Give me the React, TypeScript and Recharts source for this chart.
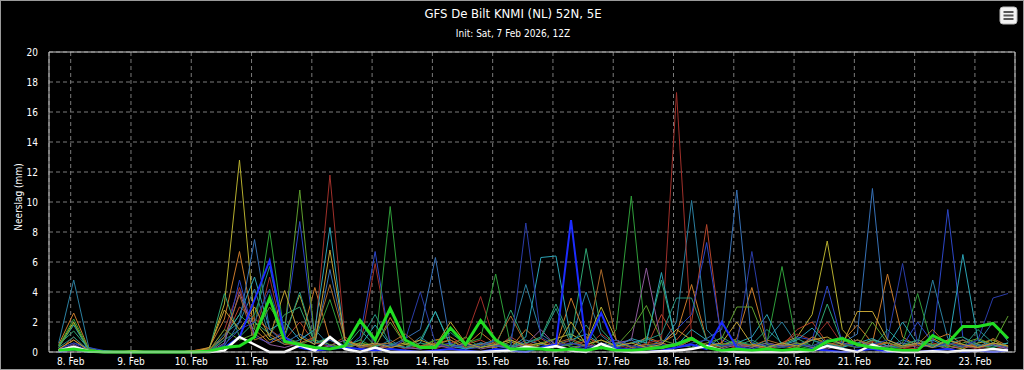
import React from 'react';
import { LineChart, Line, XAxis, YAxis, CartesianGrid } from 'recharts';

// Forecast steps: 6-hourly, from Sat 7 Feb 2026 18Z to 23 Feb 12Z (64 steps)
const dayLabels = ['8. Feb', '9. Feb', '10. Feb', '11. Feb', '12. Feb', '13. Feb', '14. Feb', '15. Feb',
  '16. Feb', '17. Feb', '18. Feb', '19. Feb', '20. Feb', '21. Feb', '22. Feb', '23. Feb'];
const dayTickSteps = [0.8, 4.8, 8.8, 12.8, 16.8, 20.8, 24.8, 28.8, 32.8, 36.8, 40.8, 44.8, 48.8, 52.8, 56.8, 60.8];
const yTicks = [0, 2, 4, 6, 8, 10, 12, 14, 16, 18, 20];

const m01 = [0.6, 4.8, 0.3, 0, 0, 0, 0, 0, 0, 0, 0.1, 1.2, 2.0, 4.2, 1.0, 0.5, 0.8, 1.5, 0.4, 0.2, 0.6, 0.3, 0.8, 0.2, 1.0, 0.3, 0.5, 0.2, 0.6, 0.4, 0.9, 4.5, 1.2, 0.5, 0.8, 4.0, 1.1, 0.3, 0.6, 0.9, 0.5, 2.0, 10.1, 1.5, 0.4, 0.6, 0.3, 0.8, 2.0, 0.5, 0.3, 0.7, 1.0, 0.4, 0.6, 0.3, 0.8, 0.5, 4.8, 0.9, 0.4, 0.6, 2.0, 0.7];
const m02 = [0.4, 2.0, 0.1, 0, 0, 0.1, 0, 0, 0, 0, 0.2, 3.2, 12.8, 2.0, 0.8, 1.2, 3.8, 0.6, 0.9, 0.3, 0.5, 0.2, 0.4, 0.6, 0.3, 0.5, 0.8, 0.2, 0.4, 0.3, 0.7, 0.2, 0.5, 0.9, 1.2, 0.6, 3.0, 0.8, 0.3, 0.5, 0.2, 0.6, 0.9, 0.3, 0.5, 0.7, 0.4, 0.2, 0.6, 1.0, 2.5, 7.4, 1.5, 0.4, 0.8, 0.6, 0.3, 0.5, 0.9, 0.4, 0.2, 0.6, 0.8, 0.3];
const m03 = [0.5, 2.6, 0.2, 0, 0, 0, 0, 0, 0, 0.1, 0.3, 2.2, 6.7, 1.5, 0.6, 1.0, 0.5, 4.3, 0.8, 0.4, 0.6, 0.3, 2.3, 0.5, 0.3, 0.8, 1.0, 0.4, 1.3, 0.5, 0.3, 1.5, 0.6, 0.4, 3.6, 1.0, 0.5, 0.8, 0.3, 1.0, 0.6, 1.2, 4.5, 0.8, 0.3, 0.9, 4.3, 0.6, 0.4, 0.2, 1.0, 0.5, 0.7, 1.8, 0.6, 5.2, 1.0, 0.4, 0.8, 1.2, 0.5, 0.3, 0.9, 0.4];
const m04 = [0.2, 0.8, 0.1, 0, 0, 0, 0, 0, 0, 0, 0.1, 1.5, 4.3, 1.0, 5.0, 0.6, 0.4, 1.0, 11.8, 0.8, 0.3, 5.9, 0.5, 0.2, 0.4, 0.2, 0.6, 0.9, 3.7, 0.5, 0.3, 0.6, 0.2, 0.4, 0.8, 0.3, 1.2, 0.5, 0.2, 0.6, 0.8, 17.3, 1.0, 0.4, 0.6, 0.2, 0.5, 0.3, 0.6, 1.2, 0.8, 2.0, 0.5, 0.3, 0.7, 0.4, 0.2, 0.5, 0.3, 0.8, 0.4, 0.2, 0.5, 0.3];
const m05 = [0.2, 0.6, 0.3, 0.1, 0, 0, 0, 0, 0, 0, 0, 0.5, 4.8, 1.0, 0.6, 1.5, 8.7, 0.8, 0.4, 0.2, 1.0, 6.7, 0.5, 0.3, 0.2, 0.4, 0.6, 0.2, 0.3, 0.5, 0.2, 0.4, 0.3, 0.6, 0.4, 0.2, 0.5, 0.3, 0.2, 0.4, 0.6, 1.5, 2.5, 7.3, 0.8, 0.4, 0.2, 0.5, 0.3, 1.0, 0.8, 4.4, 0.6, 0.3, 0.5, 0.2, 0.4, 2.0, 0.6, 9.5, 1.0, 0.3, 0.5, 0.2];
const m06 = [0, 0.2, 0, 0, 0, 0, 0, 0, 0, 0, 0, 0.3, 1.0, 3.5, 6.1, 1.0, 0.3, 0.1, 0.2, 0.3, 0.2, 0.1, 0.2, 0.1, 0, 0.1, 0.2, 0.1, 0, 0.2, 0.1, 0, 0.3, 0.5, 8.8, 0.4, 2.6, 0.2, 0.1, 0, 0.1, 0.3, 0.5, 0.2, 2.0, 0.3, 0.1, 0, 0.1, 0, 0.2, 0.1, 0, 0.1, 0.2, 0, 0.1, 0, 0.1, 0.2, 0, 0.1, 0, 0.1];
const m07 = [0.4, 2.2, 0.2, 0, 0, 0, 0, 0, 0, 0, 0.1, 1.0, 2.5, 1.5, 8.1, 1.0, 0.6, 0.8, 3.5, 0.4, 0.8, 0.3, 9.7, 0.6, 0.4, 0.8, 0.3, 0.6, 0.9, 5.2, 0.4, 0.2, 0.6, 0.3, 0.5, 0.9, 0.2, 1.5, 10.4, 0.5, 0.3, 0.6, 1.0, 0.3, 0.5, 0.8, 0.4, 0.6, 5.7, 0.4, 0.2, 0.6, 0.3, 0.8, 0.5, 0.2, 0.6, 3.9, 0.3, 0.5, 0.8, 0.4, 0.3, 0.6];
const m08 = [0.5, 1.4, 0.2, 0, 0, 0, 0, 0, 0, 0, 0.2, 3.9, 1.0, 2.0, 1.2, 2.5, 3.0, 0.6, 0.8, 0.3, 1.5, 0.4, 0.6, 0.3, 0.8, 2.7, 0.5, 0.3, 0.6, 0.4, 2.8, 0.6, 1.0, 3.2, 0.8, 6.9, 1.5, 0.4, 0.6, 0.8, 4.8, 0.5, 1.0, 0.3, 1.0, 0.4, 0.8, 0.3, 0.5, 0.9, 0.4, 3.2, 0.6, 0.3, 0.8, 0.4, 0.3, 0.6, 0.4, 0.8, 1.0, 0.5, 0.3, 0.6];
const m09 = [0.3, 1.8, 0.1, 0, 0, 0, 0, 0, 0, 0, 0, 1.0, 2.5, 5.0, 1.5, 2.0, 0.8, 1.5, 8.3, 0.6, 0.4, 1.8, 0.5, 0.3, 0.6, 2.7, 0.4, 0.2, 0.5, 0.8, 0.3, 1.0, 6.3, 6.4, 0.8, 1.2, 0.5, 0.3, 0.9, 0.6, 5.3, 0.4, 1.5, 0.8, 0.3, 0.6, 1.0, 2.5, 0.4, 0.8, 1.6, 0.5, 0.3, 0.6, 0.9, 0.4, 2.0, 0.5, 0.8, 0.3, 6.5, 0.8, 0.4, 0.6];
const m10 = [0.1, 0.5, 0, 0, 0, 0, 0, 0, 0, 0, 0, 0.6, 4.0, 1.2, 0.5, 0.3, 0.6, 0.2, 0.4, 0.8, 0.3, 0.2, 0.5, 0.3, 0.2, 0.4, 0.3, 0.6, 0.2, 0.4, 0.3, 0.5, 1.5, 0.4, 0.2, 0.5, 0.3, 0.6, 0.8, 5.6, 0.6, 0.3, 0.8, 0.4, 0.2, 0.5, 0.3, 0.6, 0.4, 0.6, 0.3, 0.2, 0.5, 0.8, 0.3, 0.4, 0.6, 0.3, 0.5, 0.2, 0.4, 0.3, 0.5, 0.2];
const m11 = [0.1, 0.4, 0, 0, 0, 0, 0, 0, 0, 0, 0, 0.4, 2.0, 7.5, 1.5, 0.6, 1.2, 0.5, 5.5, 0.8, 0.3, 0.6, 0.4, 0.9, 1.5, 6.3, 0.5, 0.3, 0.6, 0.4, 0.2, 0.8, 0.5, 0.3, 0.6, 0.4, 0.2, 0.5, 0.8, 0.3, 0.4, 0.6, 0.3, 0.9, 1.5, 10.8, 0.6, 0.4, 0.3, 0.5, 0.8, 0.4, 0.6, 1.2, 10.9, 0.8, 0.4, 0.6, 0.3, 0.5, 0.8, 0.4, 0.6, 0.3];
const m12 = [0.3, 1.9, 0.2, 0, 0, 0, 0, 0, 0, 0, 0.1, 1.5, 0.8, 1.2, 3.0, 1.5, 10.8, 0.8, 0.5, 0.3, 0.6, 0.4, 2.0, 0.5, 0.3, 0.6, 0.4, 1.0, 0.3, 0.5, 0.8, 0.4, 0.6, 0.9, 0.3, 0.5, 0.8, 0.4, 1.5, 3.1, 0.8, 0.5, 0.3, 0.6, 0.9, 3.0, 3.0, 0.5, 0.3, 0.6, 0.4, 0.8, 0.5, 0.3, 2.0, 0.6, 0.4, 0.8, 0.5, 0.3, 0.6, 0.9, 0.5, 2.4];
const m13 = [0.3, 1.0, 0.1, 0, 0, 0, 0, 0, 0, 0, 0, 0.8, 1.5, 2.5, 5.7, 1.0, 4.0, 0.6, 1.0, 0.4, 0.8, 2.5, 0.5, 0.3, 0.6, 0.4, 1.3, 0.5, 0.3, 0.8, 0.4, 0.6, 0.9, 2.9, 0.5, 1.8, 0.4, 0.6, 0.3, 0.8, 1.2, 3.6, 3.6, 0.8, 0.4, 0.6, 0.5, 1.5, 0.6, 0.3, 0.8, 0.5, 0.4, 0.6, 0.3, 1.5, 0.5, 0.8, 0.4, 0.6, 0.3, 1.5, 0.6, 0.4];
const m14 = [0.1, 0.3, 0, 0, 0, 0, 0, 0, 0, 0.1, 0.2, 1.0, 3.8, 0.8, 1.2, 0.5, 0.6, 1.0, 4.5, 0.8, 0.3, 0.5, 0.6, 1.2, 0.4, 0.6, 0.8, 0.3, 0.5, 0.6, 2.4, 0.5, 0.3, 0.6, 0.9, 0.4, 5.5, 0.8, 0.3, 0.5, 0.6, 0.3, 0.8, 0.5, 0.3, 0.6, 0.4, 0.8, 0.5, 0.3, 1.0, 0.6, 0.4, 0.8, 0.5, 0.6, 0.3, 0.5, 1.5, 0.4, 0.8, 0.3, 0.6, 0.4];
const m15 = [0.2, 0.6, 0.1, 0, 0, 0, 0, 0, 0, 0, 0, 0.5, 1.5, 2.0, 4.2, 0.8, 0.5, 0.3, 0.8, 0.4, 2.0, 0.6, 0.3, 0.8, 4.0, 0.6, 0.3, 0.5, 0.4, 0.8, 0.3, 8.6, 1.0, 0.4, 0.6, 0.3, 0.5, 0.8, 0.4, 0.3, 0.5, 0.3, 0.6, 0.8, 0.4, 0.5, 6.7, 0.6, 0.3, 0.5, 0.4, 0.8, 0.6, 0.3, 0.5, 0.8, 5.9, 0.5, 0.3, 0.6, 0.4, 0.8, 3.6, 3.9];
const m16 = [0.2, 0.8, 0.1, 0, 0, 0, 0, 0, 0, 0, 0.3, 2.8, 1.5, 3.0, 1.0, 4.1, 1.0, 0.5, 6.8, 0.8, 0.4, 0.6, 0.3, 0.5, 0.8, 0.4, 2.0, 0.6, 0.3, 0.5, 0.8, 0.4, 0.6, 0.3, 2.0, 0.5, 0.8, 0.4, 0.6, 0.3, 0.5, 1.5, 0.8, 0.4, 0.6, 2.0, 0.5, 0.3, 0.6, 0.4, 0.8, 1.0, 0.5, 2.7, 2.7, 0.8, 0.4, 0.6, 0.3, 0.8, 0.5, 0.3, 0.6, 0.4];
const m17 = [0.1, 1.0, 0, 0, 0, 0, 0, 0, 0, 0, 0, 0.8, 3.0, 2.2, 1.5, 0.8, 2.0, 0.6, 0.4, 1.0, 0.3, 0.5, 0.2, 0.8, 0.3, 0.6, 0.2, 0.5, 0.8, 0.3, 1.0, 0.4, 0.9, 0.3, 0.5, 0.7, 0.2, 0.6, 0.4, 0.3, 2.5, 0.8, 2.0, 8.5, 0.6, 0.3, 0.5, 0.2, 0.4, 1.5, 2.0, 0.6, 0.3, 0.8, 0.4, 0.6, 0.3, 0.2, 0.6, 0.4, 0.3, 0.5, 0.2, 0.4];
const ensMean = [0.1, 0.2, 0.05, 0, 0, 0, 0, 0, 0, 0, 0.05, 0.3, 0.4, 1.0, 3.6, 0.7, 0.5, 0.3, 0.2, 0.4, 2.1, 0.8, 2.9, 0.8, 0.3, 0.3, 1.6, 0.5, 2.1, 0.8, 0.2, 0.2, 0.2, 0.1, 0.2, 0.1, 0.3, 0.1, 0.1, 0.2, 0.3, 0.5, 0.9, 0.3, 0.1, 0.2, 0.1, 0.2, 0.1, 0.2, 0.1, 0.7, 0.9, 0.5, 0.3, 0.2, 0.1, 0.1, 1.1, 0.6, 1.7, 1.7, 1.9, 0.9];
const operational = [0.1, 0.35, 0.05, 0, 0, 0, 0, 0, 0, 0, 0, 0.1, 1.0, 0.5, 0, 0, 0.45, 0.1, 1.0, 0.2, 0, 0.3, 0, 0, 0, 0, 0, 0, 0, 0.05, 0.1, 0.35, 0.2, 0.4, 0.1, 0, 0.55, 0.1, 0, 0, 0.05, 0.1, 0.2, 0.4, 0.1, 0, 0, 0, 0, 0, 0.1, 0.4, 0.2, 0, 0.5, 0.1, 0, 0, 0.05, 0, 0.1, 0.1, 0.2, 0.1];

const members = [
  { key: 'm01', values: m01, color: '#2b7fa0', width: 1 },
  { key: 'm02', values: m02, color: '#b5ae2e', width: 1 },
  { key: 'm03', values: m03, color: '#c97a2a', width: 1 },
  { key: 'm04', values: m04, color: '#a0302a', width: 1 },
  { key: 'm17', values: m17, color: '#b5452c', width: 1 },
  { key: 'm05', values: m05, color: '#2c46c8', width: 1 },
  { key: 'm07', values: m07, color: '#2f9e3a', width: 1 },
  { key: 'm08', values: m08, color: '#2fa472', width: 1 },
  { key: 'm09', values: m09, color: '#2ba3b5', width: 1 },
  { key: 'm10', values: m10, color: '#8d5a9a', width: 1 },
  { key: 'm11', values: m11, color: '#3670b5', width: 1 },
  { key: 'm12', values: m12, color: '#5e9e2e', width: 1 },
  { key: 'm13', values: m13, color: '#23917e', width: 1 },
  { key: 'm14', values: m14, color: '#a8682a', width: 1 },
  { key: 'm15', values: m15, color: '#2a3ca8', width: 1 },
  { key: 'm16', values: m16, color: '#c0a032', width: 1 },
  { key: 'm06', values: m06, color: '#1c2cff', width: 2 },
];

const data = m01.map((_, i) => {
  const row: Record<string, number> = { step: i };
  members.forEach((m) => { row[m.key] = m.values[i]; });
  row.mean = ensMean[i];
  row.oper = operational[i];
  return row;
});

const FONT = "'Liberation Sans Narrow', 'DejaVu Sans Condensed', 'Liberation Sans', sans-serif";

export default function App() {
  return (
    <div style={{ position: 'absolute', left: 0, top: 0, width: 1024, height: 370, background: '#000', fontFamily: FONT, boxSizing: 'border-box', border: '1px solid #9a9a9a', overflow: 'hidden' }}>
      <div style={{ position: 'absolute', left: 0, top: 5, width: 1024, textAlign: 'center', color: '#fff', fontSize: 13 }}>
        GFS De Bilt KNMI (NL) 52N, 5E
      </div>
      <div style={{ position: 'absolute', left: 0, top: 27, width: 1024, textAlign: 'center', color: '#fff', fontSize: 10 }}>
        Init: Sat, 7 Feb 2026, 12Z
      </div>
      <svg style={{ position: 'absolute', left: 998, top: 5 }} width={20} height={19}>
        <rect x={1} y={1} width={17} height={17} rx={3} fill="#f2f2f2" stroke="#bbb" />
        <rect x={4.5} y={5} width={10} height={2} fill="#555" />
        <rect x={4.5} y={8.5} width={10} height={2} fill="#555" />
        <rect x={4.5} y={12} width={10} height={2} fill="#555" />
      </svg>
      <div style={{ position: 'absolute', left: 11, top: 196, color: '#fff', fontSize: 10, transform: 'translate(-50%, -50%) rotate(-90deg)', transformOrigin: 'center', whiteSpace: 'nowrap', marginLeft: 6 }}>
        Neerslag (mm)
      </div>
      <div style={{ position: 'absolute', left: -1, top: -1 }}>
        <LineChart width={1024} height={370} data={data} margin={{ top: 51, right: 8, bottom: 0, left: 0 }}>
          <CartesianGrid stroke="#7a7a7a" strokeDasharray="4 3" />
          <XAxis
            dataKey="step"
            type="number"
            domain={[-0.64, 63.46]}
            allowDataOverflow
            ticks={dayTickSteps}
            tickFormatter={(v: number) => dayLabels[dayTickSteps.indexOf(v)] ?? ''}
            interval={0}
            height={18}
            stroke="#c8c8c8"
            tickSize={5}
            tickMargin={1}
            tick={{ fill: '#ffffff', fontSize: 10, fontFamily: FONT }}
          />
          <XAxis xAxisId="top" orientation="top" dataKey="step" type="number" domain={[-0.64, 63.46]} height={1} tick={false} tickLine={false} stroke="#c8c8c8" />
          <YAxis
            domain={[0, 20]}
            ticks={yTicks}
            interval={0}
            width={49}
            stroke="#c8c8c8"
            tickLine={false}
            tickSize={0}
            tickMargin={11}
            tick={{ fill: '#ffffff', fontSize: 10, fontFamily: FONT }}
          />
          <YAxis yAxisId="right" orientation="right" domain={[0, 20]} width={1} tick={false} tickLine={false} stroke="#c8c8c8" />
          {members.map((m) => (
            <Line key={m.key} dataKey={m.key} type="linear" stroke={m.color} strokeWidth={m.width} dot={false} activeDot={false} isAnimationActive={false} />
          ))}
          <Line dataKey="oper" type="linear" stroke="#ffffff" strokeWidth={2.5} dot={false} activeDot={false} isAnimationActive={false} />
          <Line dataKey="mean" type="linear" stroke="#22dd22" strokeWidth={3} dot={false} activeDot={false} isAnimationActive={false} />
        </LineChart>
      </div>
    </div>
  );
}
